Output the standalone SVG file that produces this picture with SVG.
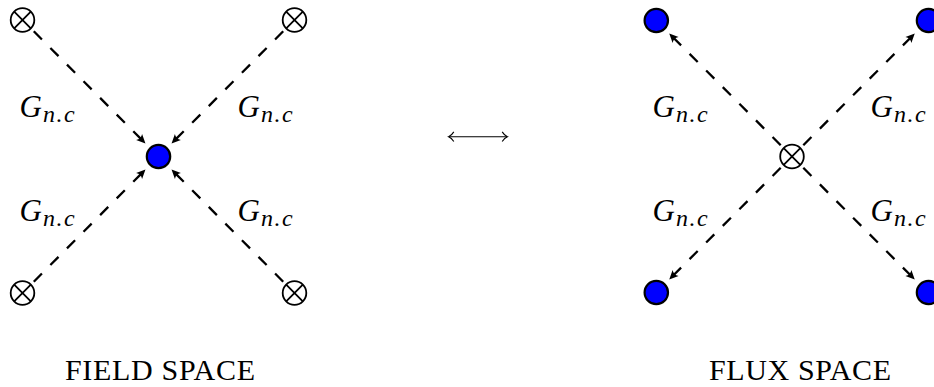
<svg xmlns="http://www.w3.org/2000/svg" width="934" height="387" viewBox="0 0 934 387">
<defs>
<style>
.edge{fill:none;stroke:#000;stroke-width:2.3;stroke-dasharray:11.5 12;marker-end:url(#arr)}
.dot{fill:#0000ff;stroke:#000;stroke-width:2.2}
.g{font-family:"Liberation Serif",serif;font-style:italic;font-size:31px;fill:#000}
.s{font-size:24px;letter-spacing:1.5px}
.cap{font-family:"Liberation Serif",serif;font-size:30px;fill:#000}
</style>
<marker id="arr" markerUnits="userSpaceOnUse" viewBox="-10 -6 14 12" refX="0" refY="0" markerWidth="14" markerHeight="12" orient="auto">
<path d="M1.5,0 L-7.5,-4.2 Q-4.5,0 -7.5,4.2 Z" fill="#000"/>
</marker>
<g id="ot"><circle r="11.8" fill="#fff" stroke="#000" stroke-width="1.8"/><path d="M-8.3,-8.3 L8.3,8.3 M-8.3,8.3 L8.3,-8.3" fill="none" stroke="#000" stroke-width="1.8"/></g>
</defs>
<rect width="934" height="387" fill="#fff"/>

<g id="connectors">
<path class="edge" d="M33.8,31.3 L144.4,142.4"/>
<path class="edge" d="M283.2,31.3 L172.6,142.4"/>
<path class="edge" d="M33.8,281.7 L144.4,170.6"/>
<path class="edge" d="M283.2,281.7 L172.6,170.6"/>
<path class="edge" d="M780.7,145.2 L670.3,34.6"/>
<path class="edge" d="M803.3,145.2 L913.7,34.6"/>
<path class="edge" d="M780.7,167.8 L670.3,278.4"/>
<path class="edge" d="M803.3,167.8 L913.7,278.4"/>
<g id="equiv" fill="none" stroke="#000" stroke-width="1.1">
<path d="M449,136.7 H507"/>
<path d="M453.8,131.9 Q451.5,135.6 448.6,136.7 Q451.5,137.8 453.8,141.5"/>
<path d="M502.2,131.9 Q504.5,135.6 507.4,136.7 Q504.5,137.8 502.2,141.5"/>
</g>
</g>

<g id="field-tl"><use href="#ot" x="22.5" y="20"/></g>
<g id="field-tr"><use href="#ot" x="294.5" y="20"/></g>
<g id="field-bl"><use href="#ot" x="22.5" y="293"/></g>
<g id="field-br"><use href="#ot" x="294.5" y="293"/></g>
<g id="field-center"><circle class="dot" cx="158.5" cy="156.5" r="11.7"/></g>

<g id="flux-center"><use href="#ot" x="792" y="156.5"/></g>
<g id="flux-tl"><circle class="dot" cx="656.3" cy="20.5" r="11.7"/></g>
<g id="flux-tr"><circle class="dot" cx="928.5" cy="20.5" r="11.7"/></g>
<g id="flux-bl"><circle class="dot" cx="656.3" cy="292.5" r="11.7"/></g>
<g id="flux-br"><circle class="dot" cx="928.5" cy="292.5" r="11.7"/></g>

<g id="labels">
<text class="g" x="19.5" y="117">G<tspan class="s" x="43" y="122">n.c</tspan></text>
<text class="g" x="237.5" y="117">G<tspan class="s" x="261" y="122">n.c</tspan></text>
<text class="g" x="19.5" y="221">G<tspan class="s" x="43" y="226">n.c</tspan></text>
<text class="g" x="237.5" y="221">G<tspan class="s" x="261" y="226">n.c</tspan></text>
<text class="g" x="652.5" y="117">G<tspan class="s" x="676" y="122">n.c</tspan></text>
<text class="g" x="870.5" y="117">G<tspan class="s" x="894" y="122">n.c</tspan></text>
<text class="g" x="652.5" y="221">G<tspan class="s" x="676" y="226">n.c</tspan></text>
<text class="g" x="870.5" y="221">G<tspan class="s" x="894" y="226">n.c</tspan></text>
<text class="cap" x="160" y="380" text-anchor="middle" textLength="190">FIELD SPACE</text>
<text class="cap" x="800" y="380" text-anchor="middle" textLength="182">FLUX SPACE</text>
</g>
</svg>
